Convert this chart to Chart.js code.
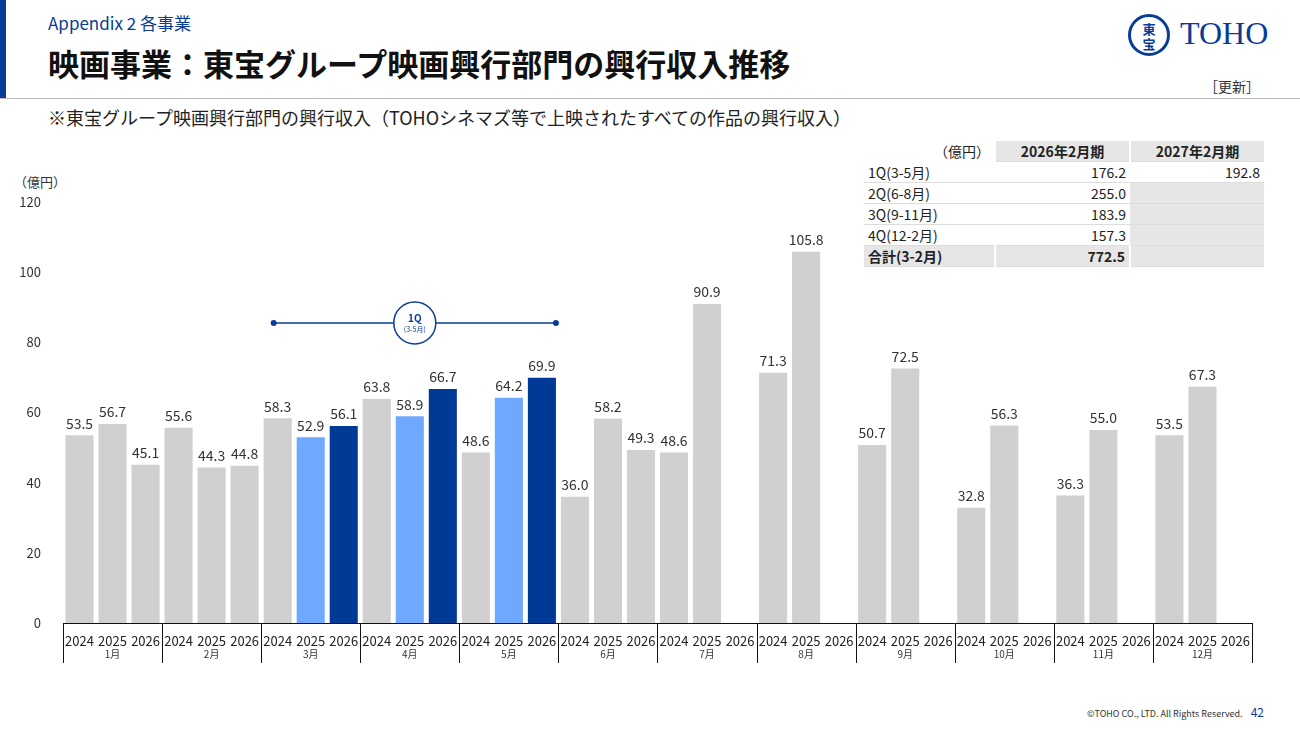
<!DOCTYPE html>
<html><head><meta charset="utf-8">
<script src="https://cdn.jsdelivr.net/npm/chart.js@4"></script>
<style>
body{margin:0;width:1300px;height:732px;position:relative;background:#fff;font-family:"Noto Sans CJK JP","Noto Sans",sans-serif;color:#222;overflow:hidden}
.abs{position:absolute}
table{border-collapse:collapse;font-size:14px}
td{padding:0 4px;height:20px;border-bottom:1px solid #ddd}
</style></head><body>
<div class="abs" style="left:0;top:0;width:6px;height:98px;background:#0a3c96"></div>
<div class="abs" style="left:0;top:98px;width:1300px;height:1px;background:#bbb"></div>
<div class="abs" style="left:48px;top:10px;font-size:17px;color:#0a3c96">Appendix 2 各事業</div>
<div class="abs" style="left:48px;top:40px;font-size:31px;font-weight:bold;color:#111">映画事業：東宝グループ映画興行部門の興行収入推移</div>
<div class="abs" style="left:1128px;top:14px;width:42px;height:42px;border:3px solid #0a3c96;border-radius:50%;box-sizing:border-box;color:#0a3c96;font-size:13px;line-height:15px;text-align:center;padding-top:4px;font-weight:bold">東<br>宝</div>
<div class="abs" style="left:1180px;top:15px;font-size:32px;color:#0a3c96;font-family:'Liberation Serif',serif">TOHO</div>
<div class="abs" style="left:1204px;top:76px;font-size:14px;color:#333">［更新］</div>
<div class="abs" style="left:48px;top:104px;font-size:18px;color:#222">※東宝グループ映画興行部門の興行収入（TOHOシネマズ等で上映されたすべての作品の興行収入）</div>
<div class="abs" style="left:14px;top:172px;font-size:13px;color:#333">（億円）</div>
<table class="abs" style="left:864px;top:141px;width:400px">
<tr><td style="text-align:right;border:none">（億円）</td><td style="background:#e6e6e6;text-align:center;font-weight:bold;width:125px;border-left:2px solid #fff">2026年2月期</td><td style="background:#e6e6e6;text-align:center;font-weight:bold;width:125px;border-left:2px solid #fff">2027年2月期</td></tr>
<tr><td>1Q(3-5月)</td><td style="text-align:right">176.2</td><td style="text-align:right">192.8</td></tr>
<tr><td>2Q(6-8月)</td><td style="text-align:right">255.0</td><td style="background:#e6e6e6"></td></tr>
<tr><td>3Q(9-11月)</td><td style="text-align:right">183.9</td><td style="background:#e6e6e6"></td></tr>
<tr><td>4Q(12-2月)</td><td style="text-align:right">157.3</td><td style="background:#e6e6e6"></td></tr>
<tr><td style="background:#e6e6e6;font-weight:bold">合計(3-2月)</td><td style="background:#e6e6e6;text-align:right;font-weight:bold;border-left:2px solid #fff">772.5</td><td style="background:#e6e6e6;border-left:2px solid #fff"></td></tr>
</table>
<div class="abs" style="left:1087px;top:703px;font-size:9px;color:#333">©TOHO CO., LTD. All Rights Reserved.&nbsp;&nbsp;&nbsp;&nbsp;<span style="font-size:12px;color:#0a3c96">42</span></div>
<div class="abs" style="left:0;top:180px;width:1300px;height:490px"><canvas id="c"></canvas></div>
<script>
const months=["1月","2月","3月","4月","5月","6月","7月","8月","9月","10月","11月","12月"];
const years=["2024","2025","2026"];
const v2024=[53.5,55.6,58.3,63.8,48.6,36.0,48.6,71.3,50.7,32.8,36.3,53.5];
const v2025=[56.7,44.3,52.9,58.9,64.2,58.2,90.9,105.8,72.5,56.3,55.0,67.3];
const v2026=[45.1,44.8,56.1,66.7,69.9,49.3,null,null,null,null,null,null];
const highlightMonths=[2,3,4];
const labels=[],values=[],colors=[];
months.forEach((m,i)=>{[v2024,v2025,v2026].forEach((arr,y)=>{labels.push(years[y]);values.push(arr[i]);
 let c="#d0d0d0"; if(highlightMonths.includes(i)){if(y===1)c="#6fa8ff";if(y===2)c="#003a96";} colors.push(c);});});
const deco={id:"deco",afterDatasetsDraw(ch){
 const ctx=ch.ctx,x=ch.scales.x,y=ch.scales.y,meta=ch.getDatasetMeta(0);
 ctx.save();ctx.font="14px 'Noto Sans CJK JP'";ctx.fillStyle="#333";ctx.textAlign="center";ctx.textBaseline="bottom";
 meta.data.forEach((b,i)=>{if(values[i]!=null)ctx.fillText(values[i].toFixed(1),b.x,b.y-5);});
 const bottom=y.getPixelForValue(0);const step=x.getPixelForValue(1)-x.getPixelForValue(0);
 ctx.strokeStyle="#111";ctx.lineWidth=1;ctx.beginPath();ctx.moveTo(x.left,bottom+0.5);ctx.lineTo(x.right,bottom+0.5);
 for(let g=0;g<=12;g++){const px=Math.round(x.getPixelForValue(g*3)-step/2)+0.5;ctx.moveTo(px,bottom);ctx.lineTo(px,bottom+40);}
 ctx.stroke();ctx.font="10px 'Noto Sans CJK JP'";ctx.textBaseline="middle";
 months.forEach((m,g)=>ctx.fillText(m,x.getPixelForValue(g*3+1),bottom+31));
 const ly=y.getPixelForValue(85.5),x1=x.getPixelForValue(6)-4,x2=x.getPixelForValue(14)+14,cx=(x1+x2)/2;
 ctx.strokeStyle="#0a3c96";ctx.fillStyle="#0a3c96";ctx.lineWidth=1.5;ctx.beginPath();ctx.moveTo(x1,ly);ctx.lineTo(x2,ly);ctx.stroke();
 [x1,x2].forEach(p=>{ctx.beginPath();ctx.arc(p,ly,3,0,7);ctx.fill();});
 ctx.beginPath();ctx.arc(cx,ly,21,0,7);ctx.fillStyle="#fff";ctx.fill();ctx.stroke();
 ctx.fillStyle="#0a3c96";ctx.font="bold 10px 'Noto Sans CJK JP'";ctx.fillText("1Q",cx,ly-5);ctx.font="7px 'Noto Sans CJK JP'";ctx.fillText("(3-5月)",cx,ly+6);
 ctx.restore();}};
new Chart(document.getElementById("c"),{type:"bar",data:{labels,datasets:[{data:values,backgroundColor:colors,categoryPercentage:1,barPercentage:0.85}]},
 options:{responsive:true,maintainAspectRatio:false,animation:false,layout:{padding:{top:3,right:48,bottom:7,left:0}},
 plugins:{legend:{display:false},tooltip:{enabled:false}},
 scales:{y:{min:0,max:120,ticks:{stepSize:20,color:"#333",font:{size:13,family:"Noto Sans CJK JP"},padding:14},grid:{display:false},border:{display:false},afterFit(s){s.width=63;}},
 x:{ticks:{color:"#222",font:{size:13,family:"Noto Sans CJK JP"},maxRotation:0,autoSkip:false,padding:2},grid:{display:false},border:{display:false},afterFit(s){s.height=40;}}}},
 plugins:[deco]});
</script></body></html>
